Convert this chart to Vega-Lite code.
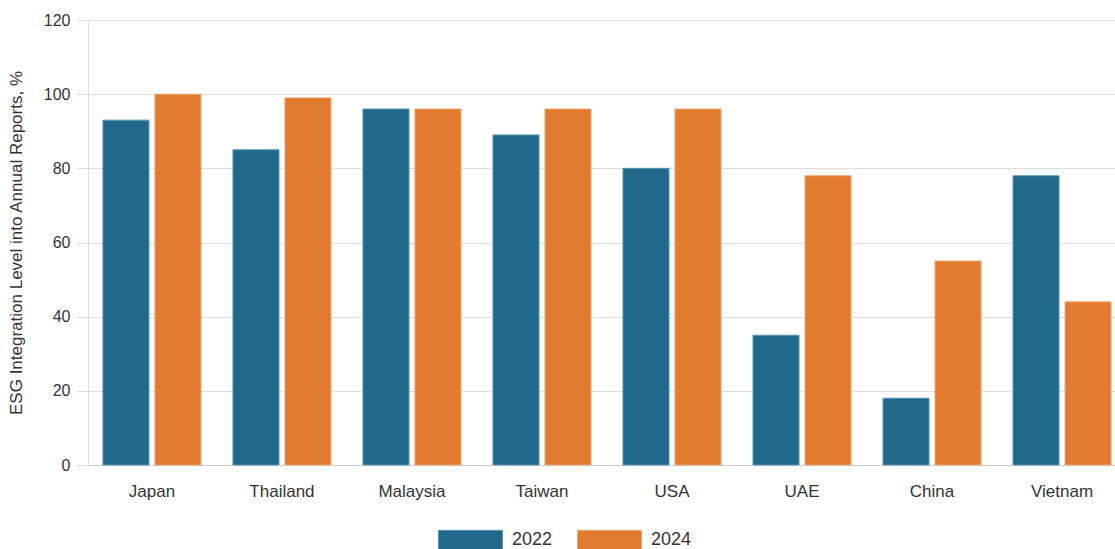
{
  "$schema": "https://vega.github.io/schema/vega-lite/v6.json",
  "width": 1038,
  "height": 445,
  "autosize": {"type": "none"},
  "padding": {"left": 88, "top": 20, "right": 0, "bottom": 84},
  "background": "white",
  "config": {
    "font": "Liberation Sans",
    "view": {"stroke": null},
    "axis": {"labelColor": "#333333", "titleColor": "#333333", "labelFontWeight": "normal"}
  },
  "data": {
    "values": [
      {"country": "Japan", "year": "2022", "value": 93},
      {"country": "Japan", "year": "2024", "value": 100},
      {"country": "Thailand", "year": "2022", "value": 85},
      {"country": "Thailand", "year": "2024", "value": 99},
      {"country": "Malaysia", "year": "2022", "value": 96},
      {"country": "Malaysia", "year": "2024", "value": 96},
      {"country": "Taiwan", "year": "2022", "value": 89},
      {"country": "Taiwan", "year": "2024", "value": 96},
      {"country": "USA", "year": "2022", "value": 80},
      {"country": "USA", "year": "2024", "value": 96},
      {"country": "UAE", "year": "2022", "value": 35},
      {"country": "UAE", "year": "2024", "value": 78},
      {"country": "China", "year": "2022", "value": 18},
      {"country": "China", "year": "2024", "value": 55},
      {"country": "Vietnam", "year": "2022", "value": 78},
      {"country": "Vietnam", "year": "2024", "value": 44}
    ]
  },
  "mark": {"type": "bar", "strokeWidth": 1},
  "encoding": {
    "x": {
      "field": "country",
      "type": "nominal",
      "sort": null,
      "scale": {"paddingInner": 0.246, "paddingOuter": 0.115},
      "axis": {
        "title": null,
        "labelAngle": 0,
        "labelFontSize": 17,
        "labelPadding": 18,
        "ticks": false,
        "domainColor": "#cccccc",
        "domainWidth": 1
      }
    },
    "xOffset": {
      "field": "year",
      "type": "nominal",
      "scale": {"paddingInner": 0.115, "paddingOuter": 0}
    },
    "y": {
      "field": "value",
      "type": "quantitative",
      "scale": {"domain": [0, 120], "nice": false},
      "axis": {
        "title": "ESG Integration Level into Annual Reports, %",
        "titleFontSize": 17,
        "titleFontWeight": "normal",
        "titlePadding": 18,
        "values": [0, 20, 40, 60, 80, 100, 120],
        "labelFontSize": 16,
        "labelPadding": 6,
        "tickSize": 12,
        "tickColor": "#dddddd",
        "domainColor": "#dddddd",
        "gridColor": "#dddddd",
        "grid": true
      }
    },
    "fill": {
      "field": "year",
      "type": "nominal",
      "scale": {"domain": ["2022", "2024"], "range": ["#21698b", "#e07b30"]},
      "legend": {
        "title": null,
        "orient": "none",
        "direction": "horizontal",
        "legendX": 350,
        "legendY": 487,
        "symbolType": "M-1,-0.3L1,-0.3L1,0.3L-1,0.3Z",
        "symbolSize": 4096,
        "symbolStrokeWidth": 1,
        "labelFontSize": 18,
        "labelColor": "#333333",
        "labelOffset": 9,
        "columnPadding": 22
      }
    },
    "stroke": {
      "field": "year",
      "type": "nominal",
      "scale": {"domain": ["2022", "2024"], "range": ["#5a95b0", "#eda673"]}
    }
  }
}
